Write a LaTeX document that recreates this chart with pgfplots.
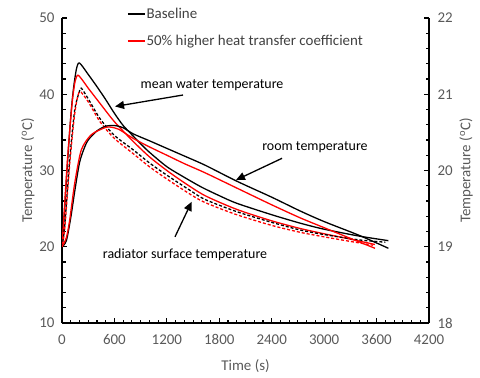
\documentclass[border=0pt]{standalone}
\usepackage{pgfplots}
\pgfplotsset{compat=1.18}
\usepackage{fontspec}
\setmainfont{Carlito}
\usetikzlibrary{arrows.meta}
\definecolor{tickgray}{HTML}{595959}
\definecolor{leggray}{HTML}{404040}
\definecolor{myred}{HTML}{FF0000}
\newcommand{\fs}{\fontsize{15}{17}\selectfont}
\newcommand{\fa}{\fontsize{14}{16}\selectfont}
\pgfplotsset{
  common/.style={
    at={(62bp,54bp)}, anchor=south west, scale only axis,
    width=367bp, height=305bp,
    xmin=0, xmax=4200,
    tick align=inside, major tick length=5bp, minor tick length=3.5bp,
    every tick/.style={black, line width=1.1bp},
    axis line style={-, line width=1.3bp, black},
    ticklabel style={font=\fs, text=tickgray},
    label style={font=\fs, text=tickgray},
    /pgf/number format/assume math mode=true,
    /pgf/number format/set thousands separator={},
  },
  wline/.style={line width=1.3bp, smooth, tension=0.45, no marks},
}
\begin{document}
\begin{tikzpicture}[x=1bp,y=1bp]
\path[use as bounding box] (0,0) rectangle (480,377);
\begin{axis}[common,
  ymin=10, ymax=50,
  axis x line*=bottom, axis y line*=left,
  xtick={0,600,...,4200}, minor x tick num=5,
  ytick={10,20,30,40,50}, minor y tick num=4,
  xticklabel style={yshift=-8bp},
  yticklabel style={xshift=-4bp},
  xlabel={Time (s)}, ylabel={Temperature (\textsuperscript{o}C)},
  xlabel style={yshift=-8bp},
  ylabel style={yshift=-2bp},
  legend style={at={(rel axis cs:0.169,1.043)}, anchor=north west, draw=none, fill=none,
    font=\fs, text=leggray, row sep=13bp, nodes={inner sep=1bp}},
  legend cell align=left,
  legend image code/.code={\draw[#1] (0bp,0bp) -- (17bp,0bp);},
]
\addlegendimage{black, line width=1.3bp}
\addlegendentry{Baseline}
\addlegendimage{myred, line width=1.3bp}
\addlegendentry{50\% higher heat transfer coefficient}
% mean water temperature, baseline
\addplot[wline, black, forget plot] coordinates {
(0,20) (30,25) (60,30.5) (100,37) (130,40.6) (165,43.3) (200,44.1) (300,42.6) (400,41.0) (500,39.3) (600,37.5) (700,35.9) (816,34.5) (900,33.5) (1000,32.4) (1200,30.5) (1400,29.1) (1600,27.8) (1800,26.7) (2000,25.7) (2400,24.2) (2724,23.1) (3000,22.3) (3400,21.4) (3735,20.8)};
% mean water temperature, higher htc
\addplot[wline, myred, forget plot] coordinates {
(0,20) (30,25.5) (60,31) (90,35.5) (120,39.3) (150,41.7) (183,42.5) (250,41.6) (300,40.8) (435,38.8) (600,36.4) (816,33.8) (1000,31.8) (1200,30.0) (1400,28.4) (1637,26.7) (2000,24.9) (2400,23.4) (2724,22.4) (3000,21.7) (3300,21.0) (3580,20.3)};
% radiator surface, baseline
\addplot[wline, black, dash pattern=on 3bp off 2bp, forget plot] coordinates {
(0,20) (30,22.6) (88,31.4) (145,37.9) (200,40.4) (221,40.8) (300,39.4) (435,36.8) (600,34.6) (816,32.7) (1000,31.0) (1198,29.4) (1465,27.4) (1637,26.2) (2000,24.6) (2400,23.2) (2724,22.2) (3000,21.6) (3400,20.9) (3700,20.6)};
% radiator surface, higher htc
\addplot[wline, myred, dash pattern=on 3bp off 2bp, dash phase=2.5bp, forget plot] coordinates {
(0,20) (30,22.2) (88,30.8) (145,37.4) (200,40.3) (300,39.0) (435,36.4) (600,34.2) (816,32.2) (1000,30.5) (1198,28.9) (1465,26.9) (1637,25.8) (2000,24.2) (2400,22.8) (2724,21.9) (3000,21.3) (3300,20.7) (3560,20.2)};
% annotations
\node[font=\fa, text=black] at (axis cs:1717,41.2) {mean water temperature};
\draw[-{Triangle[length=9bp,width=8bp]}, line width=1.3bp] (axis cs:1385,39.9) -- (axis cs:607,38.4);
\node[font=\fa, text=black] at (axis cs:2895,33.1) {room temperature};
\draw[-{Triangle[length=9bp,width=8bp]}, line width=1.3bp] (axis cs:2518,31.6) -- (axis cs:1991,28.75);
\node[font=\fa, text=black] at (axis cs:1408,18.9) {radiator surface temperature};
\draw[-{Triangle[length=9bp,width=8bp]}, line width=1.3bp] (axis cs:1293,21.3) -- (axis cs:1484,25.9);
\end{axis}
\begin{axis}[common,
  ymin=18, ymax=22,
  axis x line=none, axis y line*=right,
  ytick={18,19,20,21,22}, minor y tick num=4,
  yticklabel style={xshift=5bp},
  ylabel={Temperature (\textsuperscript{o}C)},
]
% room temperature, baseline
\addplot[wline, black] coordinates {
(0,19.0) (50,19.08) (100,19.38) (150,19.76) (200,20.1) (250,20.28) (300,20.4) (400,20.52) (500,20.58) (600,20.59) (700,20.56) (816,20.48) (1000,20.39) (1200,20.29) (1400,20.19) (1637,20.07) (2000,19.86) (2400,19.65) (2724,19.47) (3000,19.33) (3400,19.15) (3735,18.98)};
% room temperature, higher htc
\addplot[wline, myred] coordinates {
(0,19.0) (50,19.12) (88,19.35) (145,19.83) (221,20.27) (336,20.47) (488,20.56) (550,20.57) (650,20.54) (816,20.42) (1000,20.31) (1200,20.2) (1400,20.09) (1637,19.97) (2000,19.77) (2400,19.55) (2724,19.38) (3000,19.25) (3300,19.11) (3582,18.98)};
\end{axis}
\end{tikzpicture}
\end{document}
